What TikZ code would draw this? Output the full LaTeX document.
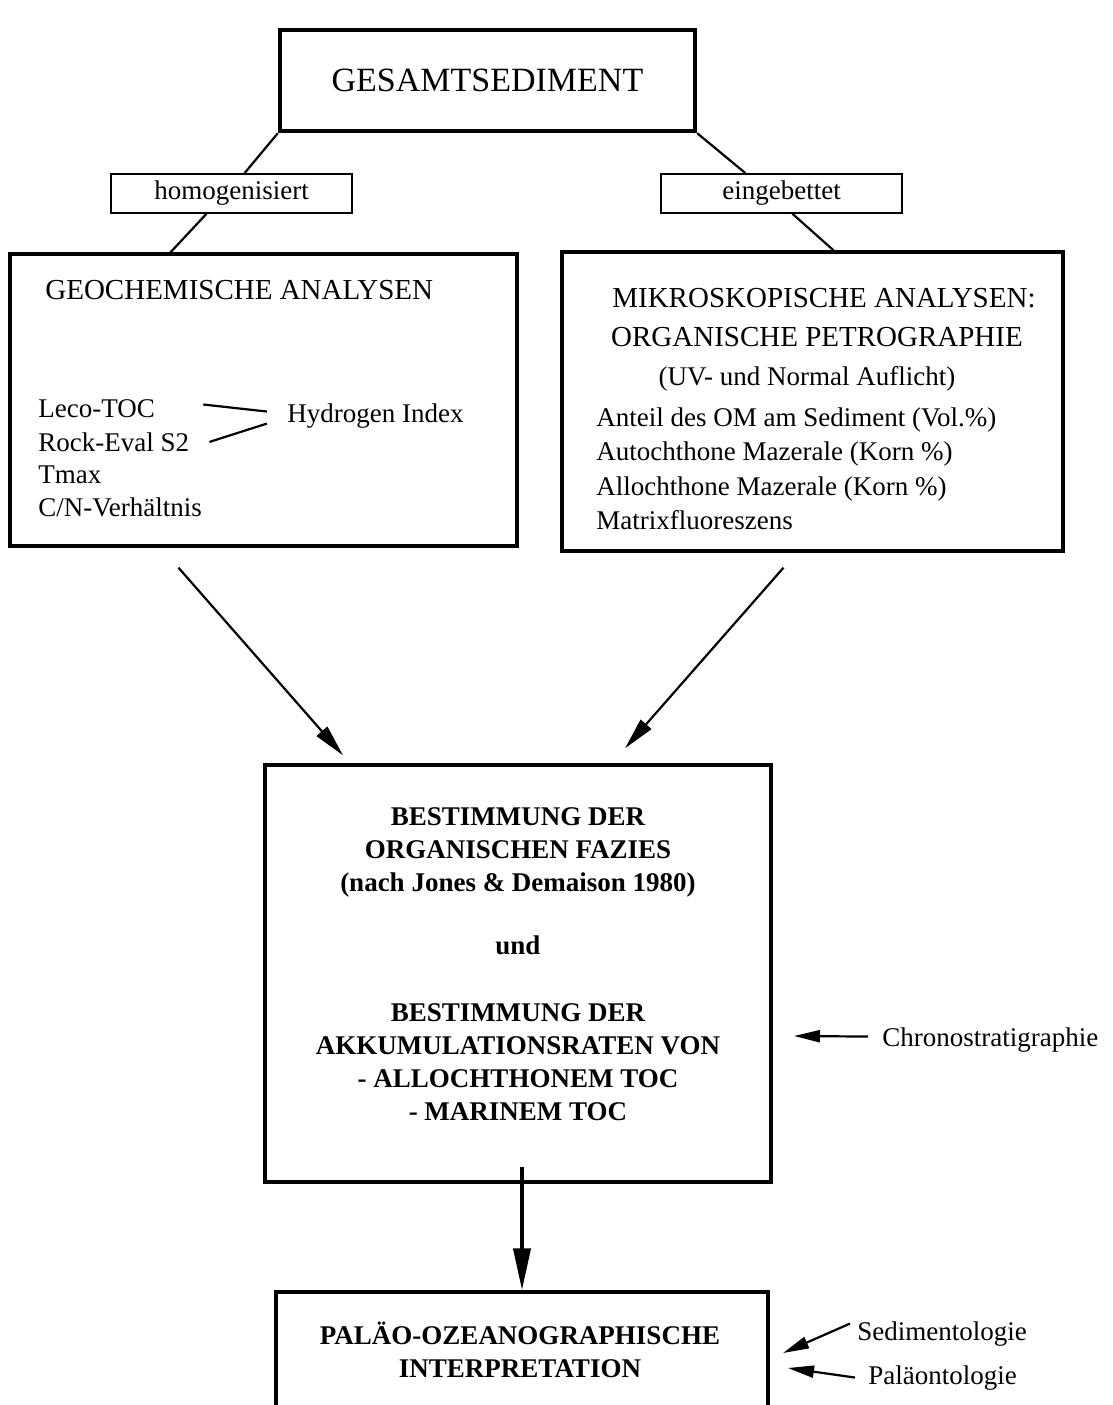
\documentclass[tikz,border=0pt]{standalone}
\usepackage{fontspec}
\setmainfont{Liberation Serif}
\usetikzlibrary{positioning,arrows.meta,calc}

\begin{document}
\begin{tikzpicture}[x=0.5pt,y=-0.5pt,
		box/.style={draw,line width=1.7pt,inner sep=0pt},
		smallbox/.style={draw,line width=0.8pt,minimum width=120.5pt,minimum height=19.5pt,inner sep=0pt},
		txt/.style={inner sep=0pt,font=\fontsize{13.5}{16.7}\selectfont},
		titel/.style={inner sep=0pt,font=\fontsize{14.5}{17}\selectfont},
		fett/.style={inner sep=0pt,align=center,font=\fontsize{13.5}{16.5}\selectfont\bfseries},
		link/.style={line width=1.1pt},
		pfeil/.style={line width=1.1pt,-{Triangle[length=16pt,width=7pt]}},
		kpfeil/.style={line width=1.1pt,-{Triangle[length=13pt,width=6pt]}}]
		\clip (0,0) rectangle (1113,1405);
		\node[box,line width=2.2pt,minimum width=207.5pt,minimum height=50.5pt,font=\fontsize{17}{20}\selectfont] (gesamt) at (487.5,80.5) {GESAMTSEDIMENT};
		\node[smallbox,txt] (homo) at (231.5,193.5) {homogenisiert};
		\node[smallbox,txt] (einge) at (781.5,193.5) {eingebettet};
		% Analysen
		\node[box,minimum width=253.5pt,minimum height=146pt] (geo) at (263.5,400) {};
		\node[box,minimum width=250.5pt,minimum height=149.5pt] (mikro) at (812.5,401.5) {};
		\draw[link] (gesamt.south west) -- ($(homo.north)+(13,0)$);
		\draw[link] ($(homo.south)+(-25,0)$) -- ($(geo.north)+(-93,0)$);
		\draw[link] (gesamt.south east) -- ($(einge.north)+(-36,0)$);
		\draw[link] ($(einge.south)+(11,0)$) -- ($(mikro.north)+(21,0)$);
		\node[titel,anchor=base west] (geotitel) at (45,299.5) {GEOCHEMISCHE ANALYSEN};
		\node[txt,anchor=north west,align=left] (leco) at (38,399) {Leco-TOC};
		\node[txt,anchor=north west,align=left] (rock) at (38,432) {Rock-Eval S2};
		\node[txt,anchor=north west,align=left] (georest) at (38,465) {Tmax\\C/N-Verhältnis};
		\node[txt,anchor=base west] (hi) at (287,422) {Hydrogen Index};
		\draw[link] ($(leco.east)+(48,-4)$) -- ($(hi.west)+(-20,-4)$);
		\draw[link] ($(rock.east)+(20,0)$) -- ($(hi.west)+(-20,8)$);
		\node[titel,anchor=base] (mtitel) at (824,307.5) {MIKROSKOPISCHE ANALYSEN:};
		\node[titel,anchor=base] (petro) at (817,346) {ORGANISCHE PETROGRAPHIE};
		\node[txt,anchor=base] (licht) at (807,385) {(UV- und Normal Auflicht)};
		\node[txt,anchor=north west,align=left,font=\fontsize{13.5}{17.3}\selectfont] (mliste) at (596,407) {Anteil des OM am Sediment (Vol.\%)\\Autochthone Mazerale (Korn \%)\\Allochthone Mazerale (Korn \%)\\Matrixfluoreszens};
		% Synthese
		\node[box,minimum width=253pt,minimum height=208.5pt] (bestimmung) at (518,973.5) {};
		\node[fett] (bestext) at (518,964) {BESTIMMUNG DER\\ORGANISCHEN FAZIES\\(nach Jones \& Demaison 1980)\\[15pt]und\\[17pt]BESTIMMUNG DER\\AKKUMULATIONSRATEN VON\\- ALLOCHTHONEM TOC\\- MARINEM TOC};
		\draw[pfeil] ($(geo.south)+(-85,20)$) -- ($(bestimmung.north)+(-175,-8)$);
		\draw[pfeil] ($(mikro.south)+(-29,15)$) -- ($(bestimmung.north)+(107,-15)$);
		\node[box,minimum width=246pt,minimum height=58pt] (interp) at (522,1350) {};
		\node[fett] (interptext) at (520,1350) {PALÄO-OZEANOGRAPHISCHE\\INTERPRETATION};
		\draw[line width=2pt,-{Triangle[length=21pt,width=8.5pt]}] ($(interp.north |- bestimmung.south)+(0,-17)$) -- (interp.north);
		% Zusatzdaten
		\node[txt,anchor=base west] (chrono) at (882,1046) {Chronostratigraphie};
		\coordinate (chronoziel) at (794,1036);
		\draw[kpfeil] ($(chrono.west)+(-14,-3)$) -- (chronoziel);
		\node[txt,anchor=base west] (sedi) at (857,1340) {Sedimentologie};
		\coordinate (sediziel) at (783,1353);
		\draw[kpfeil] ($(sedi.west)+(-7,-10)$) -- (sediziel);
		\node[txt,anchor=base west] (palaeo) at (868,1384) {Paläontologie};
		\coordinate (palziel) at (788,1368);
		\draw[kpfeil] ($(palaeo.west)+(-13,0)$) -- (palziel);
\end{tikzpicture}
\end{document}
